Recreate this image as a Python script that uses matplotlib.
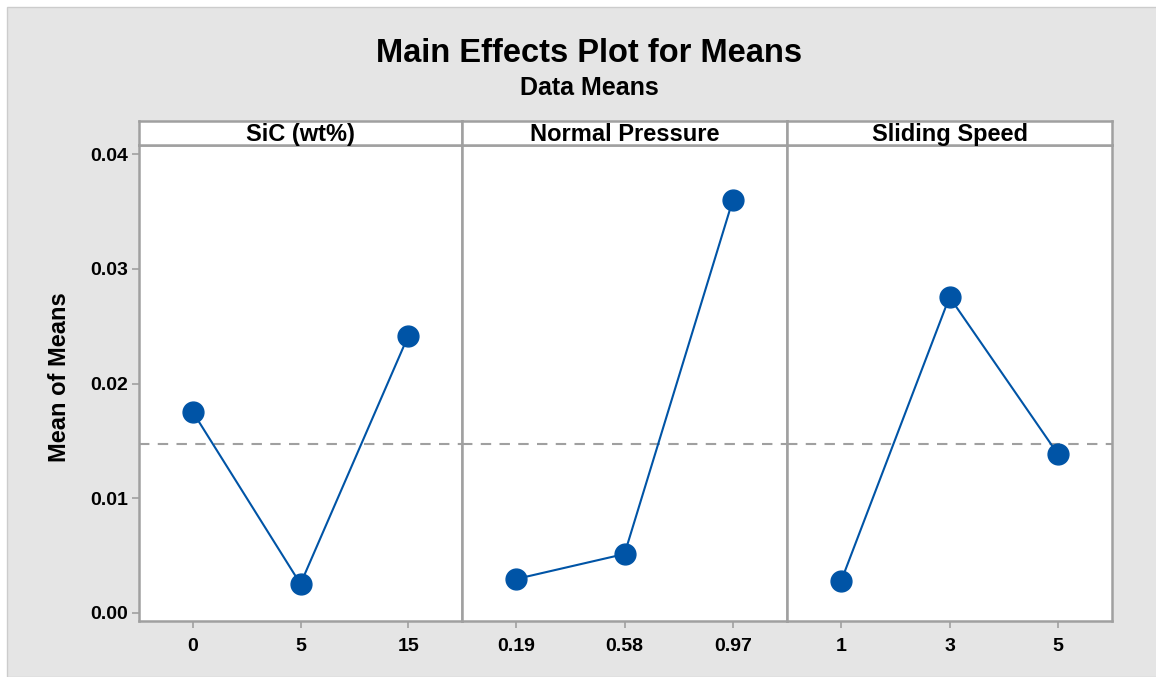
import matplotlib
matplotlib.use('Agg')
import matplotlib.pyplot as plt
from matplotlib.patches import Rectangle
import numpy as np

plt.rcParams['font.family'] = ['Liberation Sans', 'DejaVu Sans']

factors = ['SiC (wt%)', 'Normal Pressure', 'Sliding Speed']
levels = [['0', '5', '15'], ['0.19', '0.58', '0.97'], ['1', '3', '5']]
means = [[0.01752, 0.00253, 0.02414],
         [0.00296, 0.00514, 0.03600],
         [0.00279, 0.02754, 0.01386]]
grand_mean = np.mean(means)

W, H = 1156, 677
fig = plt.figure(figsize=(W / 100, H / 100), dpi=100)
fig.patch.set_facecolor('white')
bg = Rectangle((7 / W, 0), 1, 1 - 7 / H, transform=fig.transFigure,
               facecolor='#e5e5e5', edgecolor='#cccccc', lw=1, zorder=-10)
fig.patches.append(bg)

gray = '#a0a0a0'
blue = '#0054a6'
edges = [139, 462, 787, 1112]
top, bot, strip_top = 145, 621, 121

fig.text(589 / W, 1 - 54 / H, 'Main Effects Plot for Means', ha='center', va='center',
         fontsize=23.5, fontweight='bold')
fig.text(589 / W, 1 - 88 / H, 'Data Means', ha='center', va='center',
         fontsize=18, fontweight='bold')
fig.text(60 / W, 1 - 377 / H, 'Mean of Means', ha='center', va='center', rotation=90,
         fontsize=17, fontweight='bold')

for i in range(3):
    x0, x1 = edges[i], edges[i + 1]
    ax = fig.add_axes([x0 / W, 1 - bot / H, (x1 - x0) / W, (bot - top) / H])
    xs = np.arange(1, 4)
    ax.axhline(grand_mean, color=gray, ls=(0, (5, 4)), lw=1.5, zorder=1)
    ax.plot(xs, means[i], color=blue, lw=1.5, marker='o', ms=15,
            markerfacecolor=blue, markeredgecolor=blue, zorder=3)
    ax.set_xlim(0.5, 3.5)
    ax.set_ylim(-0.0007, 0.0408)
    ax.set_xticks(xs)
    ax.set_xticklabels(levels[i], fontsize=14, fontweight='bold')
    ax.tick_params(axis='x', colors=gray, labelcolor='black', length=5, width=1.2, pad=7)
    if i == 0:
        ax.set_yticks([0, 0.01, 0.02, 0.03, 0.04])
        ax.set_yticklabels(['0.00', '0.01', '0.02', '0.03', '0.04'], fontsize=14,
                           fontweight='bold')
        ax.tick_params(axis='y', colors=gray, labelcolor='black', length=5, width=1.2, pad=3)
    else:
        ax.set_yticks([])
    for sp in ax.spines.values():
        sp.set_color(gray)
        sp.set_linewidth(1.8)

    sax = fig.add_axes([x0 / W, 1 - top / H, (x1 - x0) / W, (top - strip_top) / H])
    sax.set_xticks([])
    sax.set_yticks([])
    for sp in sax.spines.values():
        sp.set_color(gray)
        sp.set_linewidth(1.8)
    sax.text(0.5, 0.45, factors[i], ha='center', va='center', transform=sax.transAxes,
             fontsize=17, fontweight='bold')

fig.savefig('out.png', dpi=100)
